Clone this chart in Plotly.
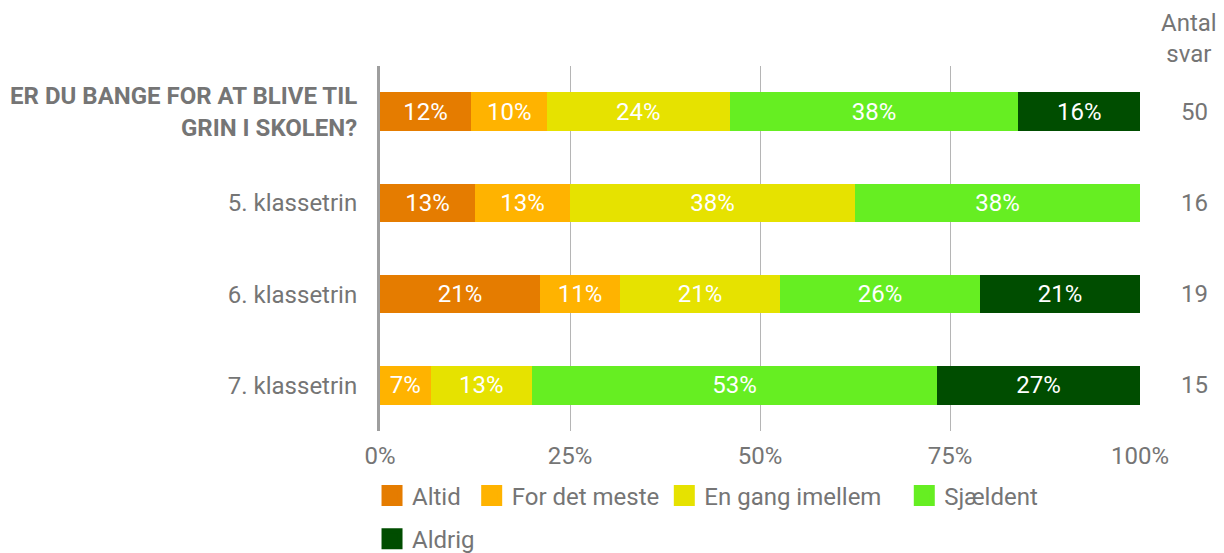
import plotly.graph_objects as go

categories = [
    "<b>ER DU BANGE FOR AT BLIVE TIL<br>GRIN I SKOLEN?</b>",
    "5. klassetrin",
    "6. klassetrin",
    "7. klassetrin",
]
series_names = ["Altid", "For det meste", "En gang imellem", "Sjældent", "Aldrig"]
altid = [12.0, 12.5, 21.05, 0.0]
for_det_meste = [10.0, 12.5, 10.53, 6.67]
en_gang_imellem = [24.0, 37.5, 21.05, 13.33]
sjaeldent = [38.0, 37.5, 26.32, 53.33]
aldrig = [16.0, 0.0, 21.05, 26.67]
antal_svar = [50, 16, 19, 15]
x_ticks = [0, 25, 50, 75, 100]
x_tick_labels = ["0%", "25%", "50%", "75%", "100%"]

colors = ["#E57C00", "#FFB300", "#E6E200", "#66EE22", "#004D00"]
series_values = [altid, for_det_meste, en_gang_imellem, sjaeldent, aldrig]
# extra legend padding (non-breaking spaces) to mimic the reference spacing
legend_pad = [1, 0, 3, 1, 0]
legend_ids = ["legend", "legend", "legend", "legend", "legend2"]

FONT = "Roboto"
GRAY = "#757575"
FS = 24

fig = go.Figure()
for name, vals, col in zip(series_names, series_values, colors):
    texts = [f"{round(v + 1e-9):.0f}%" if v > 0 else "" for v in vals]
    fig.add_trace(go.Bar(
        y=categories, x=vals, name=name, orientation="h",
        marker=dict(color=col, line=dict(width=0)),
        width=0.42,
        text=texts, textposition="inside", insidetextanchor="middle",
        textfont=dict(color="white", size=FS, family=FONT),
        hoverinfo="skip", showlegend=False,
    ))

# legend entries with larger square symbols
for name, col, pad, lg in zip(series_names, colors, legend_pad, legend_ids):
    fig.add_trace(go.Scatter(
        x=[None], y=[None], mode="markers", name=name + "\u00a0" * pad,
        marker=dict(symbol="square", size=16, color=col, line=dict(color=col, width=5)),
        showlegend=True, hoverinfo="skip", legend=lg,
    ))

for cat, n in zip(categories, antal_svar):
    fig.add_annotation(x=1.072, xref="paper", y=cat, yref="y", text=str(n),
                       showarrow=False, xanchor="center",
                       font=dict(size=FS, color=GRAY, family=FONT))
fig.add_annotation(x=1.065, xref="paper", y=1.076, yref="paper", text="Antal<br>svar",
                   showarrow=False, xanchor="center", yanchor="middle",
                   font=dict(size=FS, color=GRAY, family=FONT))

legend_style = dict(orientation="h", x=-0.0105, xanchor="left", yanchor="top",
                    font=dict(size=FS, color=GRAY, family=FONT),
                    traceorder="normal", itemwidth=30,
                    itemclick=False, itemdoubleclick=False)

fig.update_layout(
    barmode="stack",
    width=1216, height=545,
    margin=dict(l=372, r=84, t=58, b=122, autoexpand=False),
    paper_bgcolor="white", plot_bgcolor="white",
    font=dict(family=FONT, color=GRAY, size=FS),
    showlegend=True,
    legend=dict(y=-0.116, **legend_style),
    legend2=dict(y=-0.235, **legend_style),
    xaxis=dict(range=[0, 100], tickvals=x_ticks, ticktext=x_tick_labels,
               showgrid=True, gridcolor="#B5B5B5", gridwidth=1,
               zeroline=False, showline=False, ticks="",
               ticklabelstandoff=8, automargin=False,
               tickfont=dict(size=FS, color=GRAY, family=FONT), fixedrange=True),
    yaxis=dict(categoryorder="array", categoryarray=categories, autorange="reversed",
               showline=True, linecolor="#9E9E9E", linewidth=3,
               showgrid=False, ticks="", ticklabelstandoff=15, automargin=False,
               tickfont=dict(size=FS, color=GRAY, family=FONT), fixedrange=True),
)

fig.write_html("out.html")
